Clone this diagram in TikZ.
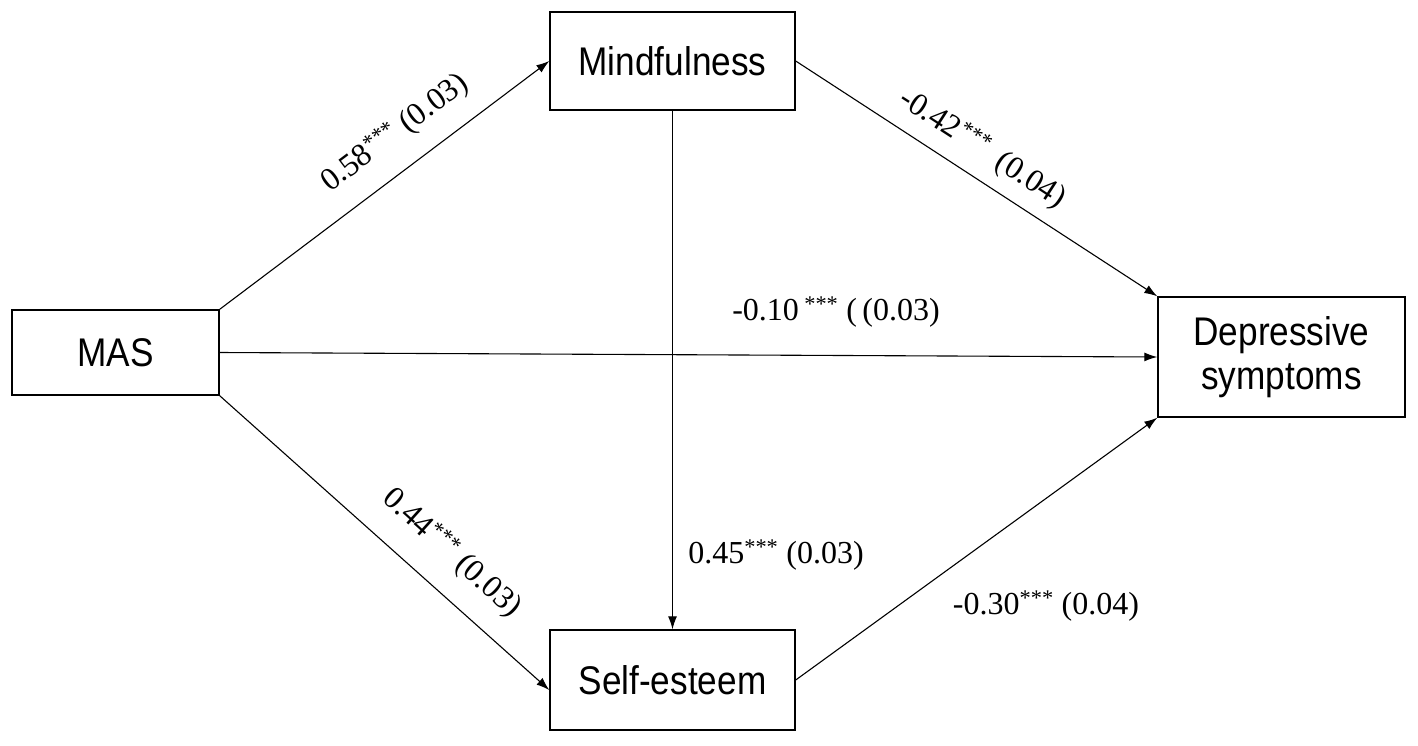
\documentclass[tikz,border=0pt]{standalone}
\usepackage{fontspec}
\setmainfont{Liberation Serif}
\newfontfamily\boxfont[FakeStretch=0.88]{Liberation Sans}
\usetikzlibrary{arrows.meta}
\begin{document}
\begin{tikzpicture}[x=1pt,y=-1pt,
  var/.style={draw, line width=1.4pt, rectangle, inner sep=0pt, align=center,
    font=\boxfont\fontsize{40}{44}\selectfont},
  arr/.style={line width=1.1pt, -{Latex[length=13pt,width=9pt]}},
  lab/.style={font=\fontsize{32}{34}\selectfont, inner sep=0pt, align=center}]
\useasboundingbox (0,0) rectangle (1418,745);
\node[var, minimum width=245pt, minimum height=98pt] (mind) at (672.5,61) {Mindfulness};
\node[var, minimum width=207pt, minimum height=85pt] (mas) at (115.5,352.5) {MAS};
\node[var, minimum width=247pt, minimum height=120pt] (dep) at (1281.5,357) {Depressive\\[0pt]symptoms};
\node[var, minimum width=245pt, minimum height=100pt] (self) at (672.5,680) {Self-esteem};
\draw[arr] (mas.north east) -- (mind.west);
\draw[arr] (mind.east) -- (dep.north west);
\draw[arr] (mas.east) -- (dep.west);
\draw[arr] (mind.south) -- (self.north);
\draw[arr] (mas.south east) -- ([yshift=-10pt]self.west);
\draw[arr] (self.east) -- (dep.south west);
\node[lab, rotate=37] (l1) at (395,133) {0.58\textsuperscript{***} (0.03)};
\node[lab, rotate=-33] (l2a) at (946,121) {-0.42\textsuperscript{***}};
\node[lab, rotate=-33] (l2b) at (1030,181) {(0.04)};
\node[lab] (l3) at (836,312) {-0.10\,\textsuperscript{***} (\,(0.03)};
\node[lab] (l4) at (776,555) {0.45\textsuperscript{***} (0.03)};
\node[lab] (l5) at (1046,606) {-0.30\textsuperscript{***} (0.04)};
\node[lab, rotate=-42] (l6) at (452,553) {0.44\textsuperscript{***} (0.03)};
\end{tikzpicture}
\end{document}
